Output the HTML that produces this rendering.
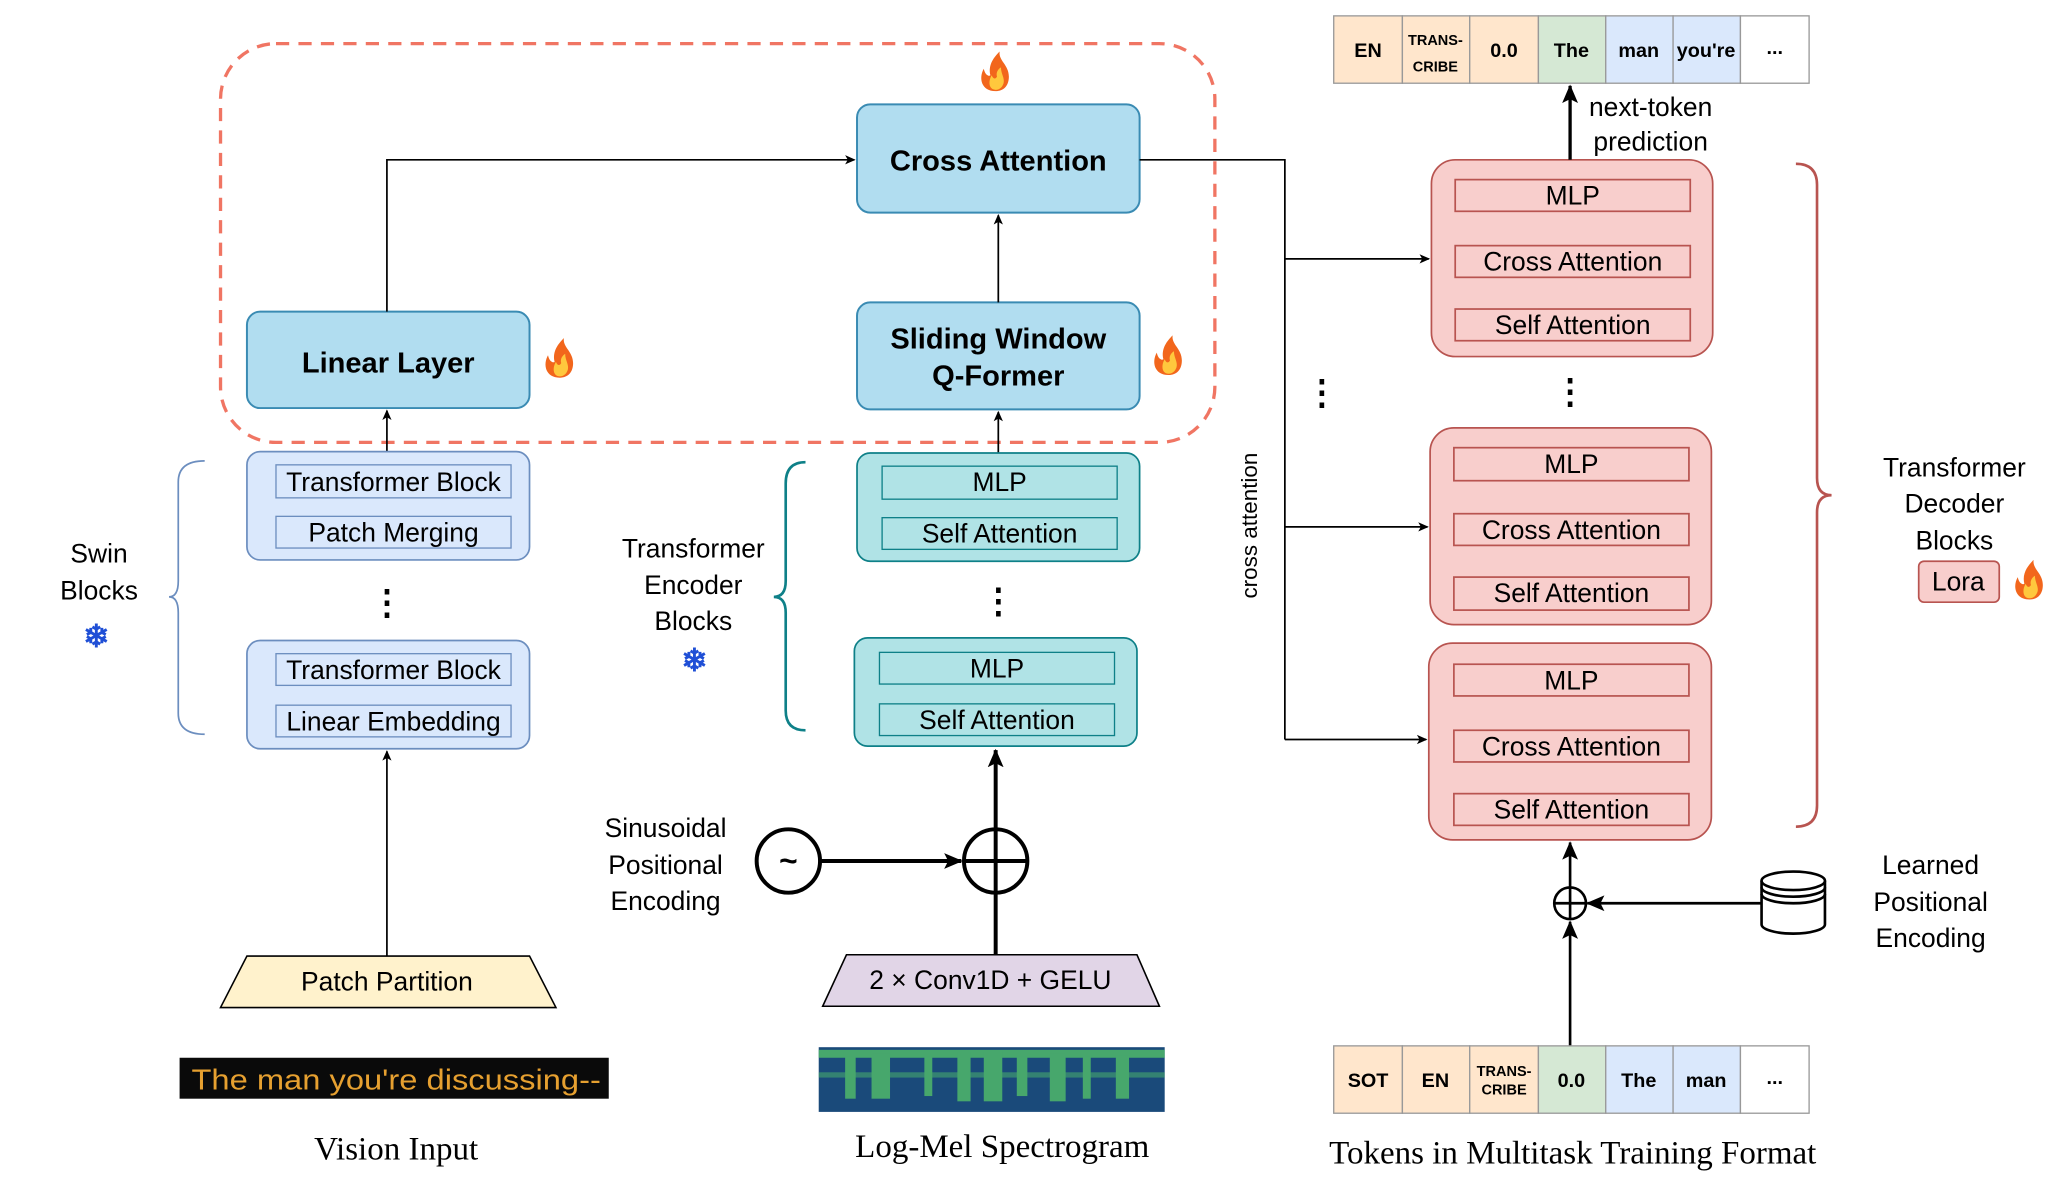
<!DOCTYPE html>
<html><head><meta charset="utf-8"><style>html,body{margin:0;padding:0;background:#fff}svg{display:block}text{font-family:"Liberation Sans",sans-serif}text.serif{font-family:"Liberation Serif",serif}</style></head><body>
<svg width="2060" height="1193" viewBox="0 0 1560 903.4" xmlns="http://www.w3.org/2000/svg">
<defs>
<marker id="a" markerWidth="8" markerHeight="8" refX="7" refY="4" orient="auto" markerUnits="userSpaceOnUse"><path d="M0,0.5 L8,4 L0,7.5 L2,4z" fill="#000"/></marker>
<marker id="b" markerWidth="14" markerHeight="14" refX="13" refY="7" orient="auto" markerUnits="userSpaceOnUse"><path d="M0,1 L14,7 L0,13 L3,7z" fill="#000"/></marker>
<g id="fl"><path d="M0,14 C-11,14 -13,4 -9,-3 C-8,2 -5,3 -4,2 C-6,-6 -1,-12 3,-16 C2,-9 10,-6 10,3 C10,10 6,14 0,14z" fill="#f2661c"/><path d="M0,13 C-5,13 -6,7 -3,2 C-2,5 0,5 1,3 C0,0 2,-3 4,-4 C4,1 7,4 6,8 C5,11 3,13 0,13z" fill="#ffc83d"/></g>
</defs>
<g font-size="20" text-anchor="middle">
<rect x="167" y="33" width="753" height="302" rx="42" fill="none" stroke="#f07563" stroke-width="2.5" stroke-dasharray="10,7"/>
<rect x="649" y="79" width="214" height="82" rx="10" fill="#b1ddf0" stroke="#3a8bb3" stroke-width="1.5"/>
<text x="756" y="129" font-size="22" font-weight="bold">Cross Attention</text>
<rect x="187" y="236" width="214" height="73" rx="10" fill="#b1ddf0" stroke="#3a8bb3" stroke-width="1.5"/>
<text x="294" y="282" font-size="22" font-weight="bold">Linear Layer</text>
<rect x="649" y="229" width="214" height="81" rx="10" fill="#b1ddf0" stroke="#3a8bb3" stroke-width="1.5"/>
<text x="756" y="264" font-size="22" font-weight="bold">Sliding Window</text>
<text x="756" y="292" font-size="22" font-weight="bold">Q-Former</text>
<use href="#fl" x="754" y="55"/><use href="#fl" x="424" y="272"/><use href="#fl" x="885" y="270"/><use href="#fl" x="1537" y="440"/>
<polyline points="293,236 293,121 647,121" fill="none" stroke="#000" stroke-width="1.3" marker-end="url(#a)"/>
<line x1="756" y1="229" x2="756" y2="163" stroke="#000" stroke-width="1.3" marker-end="url(#a)"/>
<line x1="293" y1="342" x2="293" y2="311" stroke="#000" stroke-width="1.3" marker-end="url(#a)"/>
<line x1="756" y1="343" x2="756" y2="312" stroke="#000" stroke-width="1.3" marker-end="url(#a)"/>
<rect x="187" y="342" width="214" height="82" rx="10" fill="#dae8fc" stroke="#6c8ebf" stroke-width="1.3"/>
<rect x="209" y="352" width="178" height="25" fill="#dae8fc" stroke="#6c8ebf"/><text x="298" y="372">Transformer Block</text>
<rect x="209" y="391" width="178" height="24" fill="#dae8fc" stroke="#6c8ebf"/><text x="298" y="410">Patch Merging</text>
<text x="293" y="465" font-size="26" font-weight="bold">⋮</text>
<rect x="187" y="485" width="214" height="82" rx="10" fill="#dae8fc" stroke="#6c8ebf" stroke-width="1.3"/>
<rect x="209" y="495" width="178" height="24" fill="#dae8fc" stroke="#6c8ebf"/><text x="298" y="514">Transformer Block</text>
<rect x="209" y="534" width="178" height="24" fill="#dae8fc" stroke="#6c8ebf"/><text x="298" y="553">Linear Embedding</text>
<path d="M155,349 Q135,349 135,365 L135,440 Q135,452 128,452 Q135,452 135,464 L135,540 Q135,556 155,556" fill="none" stroke="#6c8ebf" stroke-width="1.3"/>
<text x="75" y="426">Swin</text><text x="75" y="454">Blocks</text>
<text x="73" y="490" font-size="24" font-weight="bold" fill="#1f4fd6">❄</text>
<rect x="649" y="343" width="214" height="82" rx="10" fill="#b0e3e6" stroke="#0e8088" stroke-width="1.3"/>
<rect x="668" y="353" width="178" height="25" fill="#b0e3e6" stroke="#0e8088"/><text x="757" y="372">MLP</text>
<rect x="668" y="392" width="178" height="24" fill="#b0e3e6" stroke="#0e8088"/><text x="757" y="411">Self  Attention</text>
<text x="756" y="464" font-size="26" font-weight="bold">⋮</text>
<rect x="647" y="483" width="214" height="82" rx="10" fill="#b0e3e6" stroke="#0e8088" stroke-width="1.3"/>
<rect x="666" y="494" width="178" height="24" fill="#b0e3e6" stroke="#0e8088"/><text x="755" y="513">MLP</text>
<rect x="666" y="533" width="178" height="24" fill="#b0e3e6" stroke="#0e8088"/><text x="755" y="552">Self  Attention</text>
<path d="M610,350 Q595,350 595,366 L595,440 Q595,452 586,452 Q595,452 595,464 L595,538 Q595,553 610,553" fill="none" stroke="#0e8088" stroke-width="2"/>
<text x="525" y="422">Transformer</text><text x="525" y="450">Encoder</text><text x="525" y="477">Blocks</text>
<text x="526" y="508" font-size="24" font-weight="bold" fill="#1f4fd6">❄</text>
<path d="M187,724 L401,724 L421,763 L167,763z" fill="#fff2cc" stroke="#000" stroke-width="1.2"/>
<text x="293" y="750">Patch Partition</text>
<line x1="293" y1="724" x2="293" y2="569" stroke="#000" stroke-width="1.3" marker-end="url(#a)"/>
<path d="M641,723 L861,723 L878,762 L623,762z" fill="#e1d5e7" stroke="#000" stroke-width="1.2"/>
<text x="750" y="749">2 × Conv1D + GELU</text>
<line x1="754" y1="723" x2="754" y2="568" stroke="#000" stroke-width="3" marker-end="url(#b)"/>
<circle cx="754" cy="652" r="24" fill="#fff" stroke="#000" stroke-width="3"/>
<line x1="730" y1="652" x2="778" y2="652" stroke="#000" stroke-width="3"/><line x1="754" y1="628" x2="754" y2="676" stroke="#000" stroke-width="3"/>
<circle cx="597" cy="652" r="24" fill="#fff" stroke="#000" stroke-width="3"/>
<text x="597" y="660" font-size="24" font-weight="bold">~</text>
<line x1="621" y1="652" x2="728" y2="652" stroke="#000" stroke-width="3" marker-end="url(#b)"/>
<text x="504" y="634">Sinusoidal</text><text x="504" y="662">Positional</text><text x="504" y="689">Encoding</text>
<rect x="136" y="801" width="325" height="31" fill="#0a0a0a"/>
<text x="300" y="825" font-size="22" fill="#e6a030" textLength="310" lengthAdjust="spacingAndGlyphs">The man you're discussing--</text>
<rect x="620" y="793" width="262" height="49" fill="#1a4a7a"/>
<g fill="#4fb86a" opacity="0.85">
<rect x="620" y="795" width="262" height="6"/><rect x="620" y="812" width="262" height="4" opacity="0.6"/>
<rect x="640" y="800" width="8" height="32"/><rect x="660" y="798" width="14" height="34"/><rect x="700" y="800" width="6" height="30"/><rect x="725" y="796" width="10" height="38"/><rect x="745" y="796" width="14" height="38"/><rect x="770" y="800" width="8" height="30"/><rect x="795" y="798" width="12" height="36"/><rect x="820" y="800" width="6" height="32"/><rect x="845" y="799" width="10" height="33"/>
</g>
<text x="300" y="878" font-size="25" class="serif">Vision Input</text>
<text x="759" y="876" font-size="25" class="serif">Log-Mel Spectrogram</text>
<text x="1191" y="881" font-size="25" class="serif">Tokens in Multitask Training Format</text>
<polyline points="863,121 973,121 973,560" fill="none" stroke="#000" stroke-width="1.3"/>
<line x1="973" y1="196" x2="1082" y2="196" stroke="#000" stroke-width="1.3" marker-end="url(#a)"/>
<line x1="973" y1="399" x2="1081" y2="399" stroke="#000" stroke-width="1.3" marker-end="url(#a)"/>
<line x1="973" y1="560" x2="1080" y2="560" stroke="#000" stroke-width="1.3" marker-end="url(#a)"/>
<text transform="translate(952,398) rotate(-90)" font-size="17">cross attention</text>
<text x="1001" y="306" font-size="26" font-weight="bold">⋮</text>
<text x="1189" y="305" font-size="26" font-weight="bold">⋮</text>
<g fill="#f8cecc" stroke="#b85450" stroke-width="1.3">
<rect x="1084" y="121" width="213" height="149" rx="18"/><rect x="1083" y="324" width="213" height="149" rx="18"/><rect x="1082" y="487" width="214" height="149" rx="18"/>
<rect x="1102" y="136" width="178" height="24"/><rect x="1102" y="186" width="178" height="24"/><rect x="1102" y="234" width="178" height="24"/>
<rect x="1101" y="339" width="178" height="25"/><rect x="1101" y="389" width="178" height="24"/><rect x="1101" y="437" width="178" height="25"/>
<rect x="1101" y="503" width="178" height="24"/><rect x="1101" y="553" width="178" height="24"/><rect x="1101" y="601" width="178" height="24"/>
<rect x="1453" y="425" width="61" height="31" rx="4"/>
</g>
<text x="1191" y="155">MLP</text><text x="1191" y="205">Cross Attention</text><text x="1191" y="253">Self  Attention</text>
<text x="1190" y="358">MLP</text><text x="1190" y="408">Cross Attention</text><text x="1190" y="456">Self  Attention</text>
<text x="1190" y="522">MLP</text><text x="1190" y="572">Cross Attention</text><text x="1190" y="620">Self  Attention</text>
<text x="1483" y="447">Lora</text>
<path d="M1360,124 Q1376,124 1376,140 L1376,362 Q1376,375 1387,375 Q1376,375 1376,388 L1376,610 Q1376,626 1360,626" fill="none" stroke="#b85450" stroke-width="2"/>
<text x="1480" y="361">Transformer</text><text x="1480" y="388">Decoder</text><text x="1480" y="416">Blocks</text>
<text x="1462" y="662">Learned</text><text x="1462" y="690">Positional</text><text x="1462" y="717">Encoding</text>
<line x1="1189" y1="792" x2="1189" y2="698" stroke="#000" stroke-width="2" marker-end="url(#b)"/>
<circle cx="1189" cy="684" r="12" fill="#fff" stroke="#000" stroke-width="2"/>
<line x1="1177" y1="684" x2="1201" y2="684" stroke="#000" stroke-width="2"/><line x1="1189" y1="672" x2="1189" y2="696" stroke="#000" stroke-width="2"/>
<line x1="1189" y1="672" x2="1189" y2="638" stroke="#000" stroke-width="2" marker-end="url(#b)"/>
<line x1="1335" y1="684" x2="1202" y2="684" stroke="#000" stroke-width="2" marker-end="url(#b)"/>
<path d="M1334,667 L1334,700 A24,7 0 0 0 1382,700 L1382,667" fill="#fff" stroke="#000" stroke-width="2"/>
<ellipse cx="1358" cy="667" rx="24" ry="7" fill="#fff" stroke="#000" stroke-width="2"/>
<path d="M1334,672 A24,7 0 0 0 1382,672 M1334,677 A24,7 0 0 0 1382,677" fill="none" stroke="#000" stroke-width="2"/>
<line x1="1189" y1="121" x2="1189" y2="65" stroke="#000" stroke-width="2.5" marker-end="url(#b)"/>
<text x="1250" y="88">next-token</text><text x="1250" y="114">prediction</text>
<g stroke="#999" stroke-width="1">
<rect x="1010" y="12" width="52" height="51" fill="#ffe6cc"/><rect x="1062" y="12" width="51" height="51" fill="#ffe6cc"/><rect x="1113" y="12" width="52" height="51" fill="#ffe6cc"/><rect x="1165" y="12" width="51" height="51" fill="#d5e8d4"/><rect x="1216" y="12" width="51" height="51" fill="#dae8fc"/><rect x="1267" y="12" width="51" height="51" fill="#dae8fc"/><rect x="1318" y="12" width="52" height="51" fill="#fff"/>
<rect x="1010" y="792" width="52" height="51" fill="#ffe6cc"/><rect x="1062" y="792" width="51" height="51" fill="#ffe6cc"/><rect x="1113" y="792" width="52" height="51" fill="#ffe6cc"/><rect x="1165" y="792" width="51" height="51" fill="#d5e8d4"/><rect x="1216" y="792" width="51" height="51" fill="#dae8fc"/><rect x="1267" y="792" width="51" height="51" fill="#dae8fc"/><rect x="1318" y="792" width="52" height="51" fill="#fff"/>
</g>
<g font-size="15" font-weight="bold">
<text x="1036" y="43">EN</text><text x="1087" y="34" font-size="11">TRANS-</text><text x="1087" y="54" font-size="11">CRIBE</text><text x="1139" y="43">0.0</text><text x="1190" y="43">The</text><text x="1241" y="43">man</text><text x="1292" y="43">you're</text><text x="1344" y="41">...</text>
<text x="1036" y="823">SOT</text><text x="1087" y="823">EN</text><text x="1139" y="815" font-size="11">TRANS-</text><text x="1139" y="829" font-size="11">CRIBE</text><text x="1190" y="823">0.0</text><text x="1241" y="823">The</text><text x="1292" y="823">man</text><text x="1344" y="821">...</text>
</g>
</g>
</svg>
</body></html>
